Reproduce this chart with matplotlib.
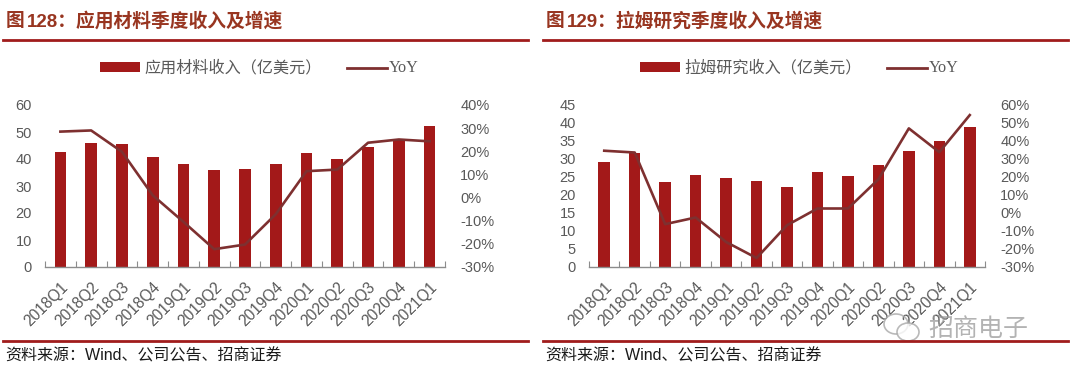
import matplotlib
matplotlib.use("Agg")
import matplotlib.pyplot as plt
from matplotlib.lines import Line2D
from matplotlib.patches import Rectangle, Ellipse
import matplotlib.transforms as mtransforms
import numpy as np

plt.rcParams['font.family'] = ['Liberation Sans', 'Noto Sans CJK SC', 'DejaVu Sans']

quarters = ["2018Q1", "2018Q2", "2018Q3", "2018Q4", "2019Q1", "2019Q2", "2019Q3",
            "2019Q4", "2020Q1", "2020Q2", "2020Q3", "2020Q4", "2021Q1"]

amat_rev = [42.6, 46.1, 45.4, 40.6, 38.1, 35.8, 36.2, 38.0, 42.2, 40.0, 44.5, 47.4, 52.3]
amat_yoy = [28.5, 29.0, 19.8, 1.0, -10.5, -22.3, -20.3, -7.2, 11.4, 12.1, 23.7, 25.1, 24.3]

lam_rev = [29.3, 31.8, 23.6, 25.6, 24.7, 24.0, 22.1, 26.3, 25.4, 28.3, 32.1, 35.0, 39.0]
lam_yoy = [34.6, 33.6, -6.2, -2.5, -16.1, -25.0, -6.8, 2.5, 2.5, 18.7, 47.0, 33.8, 54.4]

BAR = '#A31919'
LINE = '#7E3030'
GRAY = '#595959'
TITLE = '#983520'
RULE = '#A01C1C'

W, H = 1080, 376
fig = plt.figure(figsize=(W / 100, H / 100), dpi=100)


def px(x0, y0, w, h):
    return [x0 / W, 1 - (y0 + h) / H, w / W, h / H]


def panel(xoff, ax_x0, ax_x1, title_num, title_txt, legend_txt, rev, yoy,
          ylim, ystep, y2lim, y2step):
    # title
    fig.text((xoff + 6) / W, 1 - 21 / H, "图 ", fontsize=13.5, color=TITLE,
             fontweight='bold', va='center', ha='left', family=['Noto Sans CJK SC'])
    fig.text((xoff + 27) / W, 1 - 21 / H, title_num + "：" + title_txt, fontsize=13.5,
             color=TITLE, fontweight='bold', va='center', ha='left',
             family=['Liberation Sans', 'Noto Sans CJK SC'])
    # rules
    fig.add_artist(Line2D([(xoff + 3) / W, (xoff + 528) / W], [1 - 40 / H, 1 - 40 / H],
                          color=RULE, lw=2.0))
    fig.add_artist(Line2D([(xoff + 3) / W, (xoff + 528) / W], [1 - 341 / H, 1 - 341 / H],
                          color=RULE, lw=2.0))
    # source
    fig.text((xoff + 5) / W, 1 - 356 / H, "资料来源：Wind、公司公告、招商证券", fontsize=11.5,
             color='#1a1a1a', va='center', ha='left',
             family=['Liberation Sans', 'Noto Sans CJK SC'])
    # legend
    fig.add_artist(Rectangle(((xoff + 100) / W, 1 - 72 / H), 40 / W, 10 / H,
                             facecolor=BAR, edgecolor='none'))
    fig.text((xoff + 144) / W, 1 - 68 / H, legend_txt, fontsize=11.6, color=GRAY,
             va='center', ha='left', family=['Noto Sans CJK SC'])
    fig.add_artist(Line2D([(xoff + 347) / W, (xoff + 387) / W], [1 - 68 / H, 1 - 68 / H],
                          color=LINE, lw=2.0))
    fig.text((xoff + 389) / W, 1 - 68 / H, "YoY", fontsize=11.6, color=GRAY,
             va='center', ha='left', family=['Liberation Serif'])

    ax = fig.add_axes(px(ax_x0, 105, ax_x1 - ax_x0, 162))
    x = np.arange(len(quarters))
    ax.bar(x, rev, width=0.38, color=BAR, zorder=2)
    ax.set_xlim(-0.5, len(quarters) - 0.5)
    ax.set_ylim(*ylim)
    ax.set_yticks(np.arange(ylim[0], ylim[1] + 0.01, ystep))
    ax.set_xticks(np.arange(-0.5, len(quarters), 1.0), minor=False)
    ax.set_xticklabels([])
    ax.set_xticks(x, minor=True)
    labels = ax.set_xticklabels(quarters, minor=True, rotation=45, ha='right', va='top',
                                rotation_mode='anchor', fontsize=11.2, color=GRAY)
    off = mtransforms.ScaledTranslation(7 / 100, 0, fig.dpi_scale_trans)
    for lb in labels:
        lb.set_transform(lb.get_transform() + off)
    ax.tick_params(axis='x', which='minor', length=0, pad=9)
    ax.tick_params(axis='x', which='major', direction='in', length=4, color='#8c8c8c')
    ax.tick_params(axis='y', length=0, labelsize=10.5, labelcolor=GRAY, pad=9.5)
    for s in ['top', 'right', 'left']:
        ax.spines[s].set_visible(False)
    ax.spines['bottom'].set_color('#8c8c8c')
    ax.spines['bottom'].set_linewidth(1.0)

    ax2 = ax.twinx()
    ax2.plot(x, yoy, color=LINE, lw=1.9, zorder=3)
    ax2.set_ylim(*y2lim)
    ax2.set_yticks(np.arange(y2lim[0], y2lim[1] + 0.01, y2step))
    ax2.set_yticklabels([f"{int(v)}%" for v in np.arange(y2lim[0], y2lim[1] + 0.01, y2step)])
    ax2.tick_params(axis='y', length=0, labelsize=10.5, labelcolor=GRAY, pad=11)
    for s in ['top', 'right', 'left', 'bottom']:
        ax2.spines[s].set_visible(False)
    return ax


panel(0, 45, 445, "128", "应用材料季度收入及增速", "应用材料收入（亿美元）",
      amat_rev, amat_yoy, (0, 60), 10, (-30, 40), 10)
panel(540, 589, 985, "129", "拉姆研究季度收入及增速", "拉姆研究收入（亿美元）",
      lam_rev, lam_yoy, (0, 45), 5, (-30, 60), 10)

# watermark
fig.text(928 / W, 1 - 329 / H, "招商电子", fontsize=18, color='#9a9a9a', alpha=0.75,
         va='center', ha='left', family=['Noto Sans CJK SC'])
wm = '#a8a8a8'
fig.add_artist(Ellipse((896 / W, 1 - 324 / H), 24 / W, 20 / H, facecolor='none',
                       edgecolor=wm, lw=1.2, alpha=0.8))
fig.add_artist(Ellipse((908 / W, 1 - 332 / H), 22 / W, 18 / H, facecolor='white',
                       edgecolor=wm, lw=1.2, alpha=0.8))

fig.savefig("out.png", dpi=100)
